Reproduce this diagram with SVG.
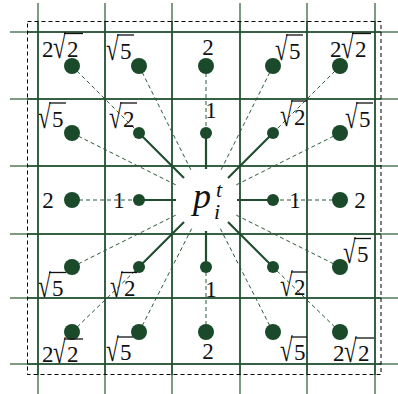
<svg xmlns="http://www.w3.org/2000/svg" width="398" height="394" viewBox="0 0 398 394">
<style>
.g{stroke:#1f4e2e;stroke-width:1.5;fill:none}
.ge{stroke:#557a5e;stroke-width:1.5;fill:none}
.frame{stroke:#000;stroke-width:1;fill:none;stroke-dasharray:4 3}
.s{stroke:#1f4e2e;stroke-width:2.2;fill:none}
.d{stroke:#2a5a38;stroke-width:1;fill:none;stroke-dasharray:4 3}
.big{fill:#1a4a2a}
.sm{fill:#1a4a2a}
.lb{font-family:"Liberation Serif","Times New Roman",serif;font-size:23px;fill:#111}
.rd{font-family:"Liberation Serif","Times New Roman",serif;font-size:22px;fill:#111}
.bar{stroke:#111;stroke-width:1.3}
.p{font-family:"Liberation Serif","Times New Roman",serif;font-style:italic;fill:#111}
</style>
<defs><text id="rad" class="rd" x="0" y="0">√</text></defs>
<rect width="398" height="394" fill="#fff"/>
<g id="grid">
<line class="ge" x1="10" y1="32" x2="398" y2="32"/>
<line class="ge" x1="10" y1="99" x2="398" y2="99"/>
<line class="ge" x1="10" y1="166" x2="398" y2="166"/>
<line class="ge" x1="10" y1="234" x2="398" y2="234"/>
<line class="ge" x1="10" y1="298" x2="398" y2="298"/>
<line class="ge" x1="10" y1="364" x2="398" y2="364"/>
<line class="ge" x1="38" y1="3" x2="38" y2="394"/>
<line class="ge" x1="105" y1="3" x2="105" y2="394"/>
<line class="ge" x1="172" y1="3" x2="172" y2="394"/>
<line class="ge" x1="240" y1="3" x2="240" y2="394"/>
<line class="ge" x1="307" y1="3" x2="307" y2="394"/>
<line class="ge" x1="375" y1="3" x2="375" y2="394"/>
<line class="g" x1="27" y1="32" x2="381" y2="32"/>
<line class="g" x1="27" y1="99" x2="381" y2="99"/>
<line class="g" x1="27" y1="166" x2="381" y2="166"/>
<line class="g" x1="27" y1="234" x2="381" y2="234"/>
<line class="g" x1="27" y1="298" x2="381" y2="298"/>
<line class="g" x1="27" y1="364" x2="381" y2="364"/>
<line class="g" x1="38" y1="21" x2="38" y2="375"/>
<line class="g" x1="105" y1="21" x2="105" y2="375"/>
<line class="g" x1="172" y1="21" x2="172" y2="375"/>
<line class="g" x1="240" y1="21" x2="240" y2="375"/>
<line class="g" x1="307" y1="21" x2="307" y2="375"/>
<line class="g" x1="375" y1="21" x2="375" y2="375"/>
<rect class="frame" x="27.5" y="21.5" width="353.5" height="353"/>
</g>
<g id="connectors">
<line class="d" x1="72" y1="66" x2="139" y2="133"/>
<line class="d" x1="139" y1="66" x2="192" y2="172"/>
<line class="d" x1="206" y1="66" x2="206" y2="133"/>
<line class="d" x1="273" y1="66" x2="220" y2="172"/>
<line class="d" x1="340" y1="66" x2="273" y2="133"/>
<line class="d" x1="72" y1="133" x2="178" y2="186"/>
<line class="d" x1="340" y1="133" x2="234" y2="186"/>
<line class="d" x1="72" y1="200" x2="139" y2="200"/>
<line class="d" x1="340" y1="200" x2="273" y2="200"/>
<line class="d" x1="72" y1="267" x2="178" y2="214"/>
<line class="d" x1="340" y1="267" x2="234" y2="214"/>
<line class="d" x1="72" y1="332" x2="139" y2="267"/>
<line class="d" x1="139" y1="332" x2="192" y2="228"/>
<line class="d" x1="206" y1="332" x2="206" y2="267"/>
<line class="d" x1="273" y1="332" x2="220" y2="228"/>
<line class="d" x1="340" y1="332" x2="273" y2="267"/>
<line class="s" x1="139" y1="133" x2="184" y2="178"/>
<line class="s" x1="206" y1="133" x2="206" y2="169"/>
<line class="s" x1="273" y1="133" x2="228" y2="178"/>
<line class="s" x1="139" y1="200" x2="176" y2="200"/>
<line class="s" x1="273" y1="200" x2="237" y2="200"/>
<line class="s" x1="139" y1="267" x2="184" y2="222"/>
<line class="s" x1="206" y1="267" x2="206" y2="231"/>
<line class="s" x1="273" y1="267" x2="228" y2="222"/>
</g>
<g id="n-r1c1"><circle class="big" cx="72" cy="66" r="8"/><text class="lb" x="42" y="57">2</text><use href="#rad" transform="translate(53,58) scale(1.05,1.5)"/><text class="lb" x="67" y="57">2</text><line class="bar" x1="64" y1="33.5" x2="83" y2="33.5"/></g>
<g id="n-r1c2"><circle class="big" cx="139" cy="66" r="8"/><use href="#rad" transform="translate(106,60) scale(1.05,1.5)"/><text class="lb" x="120" y="59">5</text><line class="bar" x1="117" y1="35" x2="134" y2="35"/></g>
<g id="n-r1c3"><circle class="big" cx="206" cy="66" r="8"/><text class="lb" x="208" y="55" text-anchor="middle">2</text></g>
<g id="n-r1c4"><circle class="big" cx="273" cy="66" r="8"/><use href="#rad" transform="translate(275,60) scale(1.05,1.5)"/><text class="lb" x="289" y="59">5</text><line class="bar" x1="286" y1="35" x2="303" y2="35"/></g>
<g id="n-r1c5"><circle class="big" cx="340" cy="66" r="8"/><text class="lb" x="330" y="57">2</text><use href="#rad" transform="translate(341,58) scale(1.05,1.5)"/><text class="lb" x="355" y="57">2</text><line class="bar" x1="352" y1="33.5" x2="371" y2="33.5"/></g>
<g id="n-r2c1"><circle class="big" cx="72" cy="133" r="8"/><use href="#rad" transform="translate(38,128) scale(1.05,1.5)"/><text class="lb" x="52" y="127">5</text><line class="bar" x1="49" y1="103" x2="66" y2="103"/></g>
<g id="n-r2c2"><circle class="sm" cx="139" cy="133" r="6"/><use href="#rad" transform="translate(109,128) scale(1.05,1.5)"/><text class="lb" x="123" y="127">2</text><line class="bar" x1="120" y1="103" x2="137" y2="103"/></g>
<g id="n-r2c3"><circle class="sm" cx="206" cy="133" r="6"/><text class="lb" x="211" y="118" text-anchor="middle">1</text></g>
<g id="n-r2c4"><circle class="sm" cx="273" cy="133" r="6"/><use href="#rad" transform="translate(280,126) scale(1.05,1.5)"/><text class="lb" x="294" y="125">2</text><line class="bar" x1="291" y1="101" x2="307" y2="101"/></g>
<g id="n-r2c5"><circle class="big" cx="340" cy="133" r="8"/><use href="#rad" transform="translate(345,128) scale(1.05,1.5)"/><text class="lb" x="359" y="127">5</text><line class="bar" x1="356" y1="103" x2="373" y2="103"/></g>
<g id="n-r3c1"><circle class="big" cx="72" cy="200" r="8"/><text class="lb" x="48" y="208" text-anchor="middle">2</text></g>
<g id="n-r3c2"><circle class="sm" cx="139" cy="200" r="6"/><text class="lb" x="119" y="208" text-anchor="middle">1</text></g>
<g id="n-center"><text class="p" x="193" y="208" font-size="36">p</text><text class="p" x="216" y="197" font-size="22">t</text><text class="p" x="214" y="219" font-size="22">i</text></g>
<g id="n-r3c4"><circle class="sm" cx="273" cy="200" r="6"/><text class="lb" x="295" y="208" text-anchor="middle">1</text></g>
<g id="n-r3c5"><circle class="big" cx="340" cy="200" r="8"/><text class="lb" x="360" y="208" text-anchor="middle">2</text></g>
<g id="n-r4c1"><circle class="big" cx="72" cy="267" r="8"/><use href="#rad" transform="translate(38,297) scale(1.05,1.5)"/><text class="lb" x="52" y="296">5</text><line class="bar" x1="49" y1="272.5" x2="66" y2="272.5"/></g>
<g id="n-r4c2"><circle class="sm" cx="139" cy="267" r="6"/><use href="#rad" transform="translate(110,297) scale(1.05,1.5)"/><text class="lb" x="124" y="296">2</text><line class="bar" x1="121" y1="272.5" x2="137" y2="272.5"/></g>
<g id="n-r4c3"><circle class="sm" cx="206" cy="267" r="6"/><text class="lb" x="211" y="297" text-anchor="middle">1</text></g>
<g id="n-r4c4"><circle class="sm" cx="273" cy="267" r="6"/><use href="#rad" transform="translate(280,296) scale(1.05,1.5)"/><text class="lb" x="294" y="295">2</text><line class="bar" x1="291" y1="272" x2="307" y2="272"/></g>
<g id="n-r4c5"><circle class="big" cx="340" cy="267" r="8"/><use href="#rad" transform="translate(343,263) scale(1.05,1.5)"/><text class="lb" x="357" y="262">5</text><line class="bar" x1="354" y1="238.5" x2="371" y2="238.5"/></g>
<g id="n-r5c1"><circle class="big" cx="72" cy="332" r="8"/><text class="lb" x="42" y="362">2</text><use href="#rad" transform="translate(53,363) scale(1.05,1.5)"/><text class="lb" x="67" y="362">2</text><line class="bar" x1="64" y1="339" x2="83" y2="339"/></g>
<g id="n-r5c2"><circle class="big" cx="139" cy="332" r="8"/><use href="#rad" transform="translate(106,361) scale(1.05,1.5)"/><text class="lb" x="120" y="360">5</text><line class="bar" x1="117" y1="337" x2="133" y2="337"/></g>
<g id="n-r5c3"><circle class="big" cx="206" cy="332" r="8"/><text class="lb" x="208" y="359" text-anchor="middle">2</text></g>
<g id="n-r5c4"><circle class="big" cx="273" cy="332" r="8"/><use href="#rad" transform="translate(280,361) scale(1.05,1.5)"/><text class="lb" x="294" y="360">5</text><line class="bar" x1="291" y1="337" x2="307" y2="337"/></g>
<g id="n-r5c5"><circle class="big" cx="340" cy="332" r="8"/><text class="lb" x="333" y="361">2</text><use href="#rad" transform="translate(344,362) scale(1.05,1.5)"/><text class="lb" x="358" y="361">2</text><line class="bar" x1="355" y1="338" x2="374" y2="338"/></g>
</svg>
